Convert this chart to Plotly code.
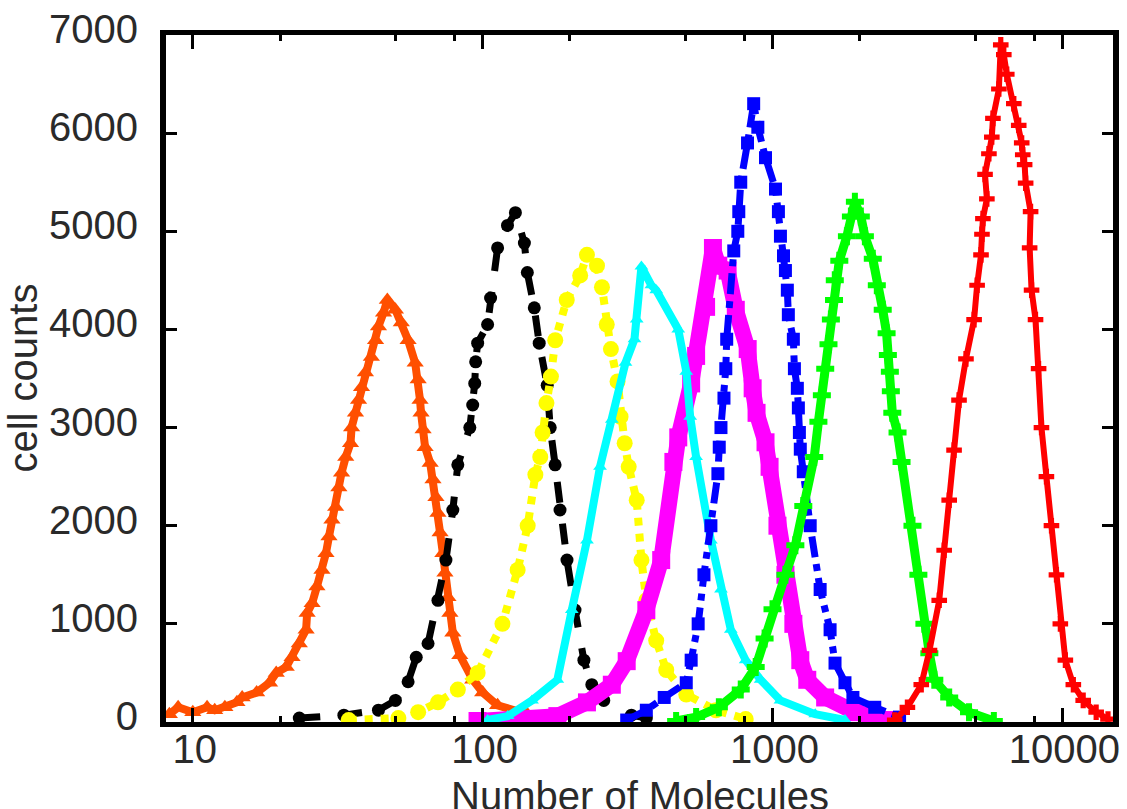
import plotly.graph_objects as go

# ---- data (molecule number vs. cell counts) ----
orange_x = [8.3, 8.9, 10, 11.2, 11.9, 12.9, 14.2, 14.8, 16.6, 18.4, 19.4, 21, 22, 23.3, 24.6, 24.8, 25.8, 26.8, 27.9, 28.8,
            29.5, 30.2, 31.1, 31.9, 32.6, 33.7, 35.0, 35.3, 36.4, 37.3, 38.2, 39.4, 41.3, 42.7, 43.7, 45.5, 46.9, 50.0, 52.4, 55.3,
            58.5, 59.9, 60.8, 61.3, 62.3, 63.3, 65.9, 67.4, 69.0, 70.1, 71.3, 72.9, 74.1, 75.9, 77.1, 78.9, 83.4, 92.4, 100, 112.6,
            142.6, 180.6]
orange_y = [80, 150, 100, 150, 120, 150, 200, 250, 300, 400, 500, 560, 660, 800, 940, 1110, 1210, 1380, 1550, 1720,
            1890, 2060, 2190, 2390, 2540, 2700, 2840, 3000, 3150, 3280, 3410, 3560, 3720, 3890, 4030, 4170, 4300, 4200, 4070, 3890,
            3660, 3490, 3280, 3150, 2980, 2800, 2640, 2470, 2290, 2130, 1930, 1720, 1520, 1270, 1110, 910, 680, 430, 300, 170,
            80, 40]

black_x = [23.3, 33.2, 43.7, 50.0, 55.3, 59.0, 64.8, 70.1, 74.7, 78.9, 82.1, 90.3, 92.4, 93.9, 94.6, 96.1, 104, 106.5,
           112.6, 121.8, 129.7, 139.3, 142.6, 150.7, 156.7, 167, 171, 177.8, 184.9, 195.4, 208.3, 223.5, 238, 261.7, 326, 367]
black_y = [40, 70, 120, 220, 410, 660, 800, 1240, 1650, 2160, 2620, 3000, 3230, 3450, 3670, 3860, 4050, 4320,
           4830, 5060, 5190, 4880, 4580, 4220, 3860, 3430, 3000, 2620, 2160, 1650, 1140, 630, 380, 220, 70, 40]

yellow_x = [34.5, 51.2, 59.9, 70.1, 82.1, 96.1, 117, 132, 143, 152, 158, 161, 166, 172, 178, 195, 217, 229, 248, 258,
            268, 277, 292, 299, 309, 319, 340, 353, 367, 397, 430, 504, 638, 808]
yellow_y = [20, 40, 100, 200, 330, 500, 1000, 1550, 2000, 2520, 2700, 2950, 3250, 3520, 3890, 4300, 4550, 4760, 4650, 4430,
            4050, 3800, 3470, 3110, 2840, 2600, 2260, 1650, 1240, 830, 530, 280, 120, 30]

magenta_x = [96, 181, 229, 279, 314, 367, 413, 455, 473, 524, 545, 590, 623, 650, 700, 747, 821, 854, 881, 946, 977,
             1040, 1108, 1180, 1247, 1318, 1519, 1924, 2535]
magenta_y = [10, 60, 200, 380, 620, 1140, 1650, 2650, 2900, 3450, 3730, 4230, 4830, 4650, 4600, 4200, 3800, 3400, 3150,
             2850, 2600, 2000, 1500, 1000, 630, 430, 250, 100, 20]

cyan_x = [104, 122, 148, 181, 203, 229, 254, 279, 311, 334, 340, 353, 382, 397, 473, 504, 520, 545, 613, 664, 718, 808,
          910, 1065, 1404, 1778]
cyan_y = [20, 60, 220, 430, 1140, 1850, 2600, 3080, 3660, 3900, 4100, 4640, 4450, 4400, 4000, 3570, 3110, 2700, 1850,
          1350, 940, 630, 430, 220, 80, 20]

blue_x = [314, 367, 423, 504, 524, 554, 580, 613, 648, 655, 664, 680, 690, 695, 735, 759, 765, 777, 820, 861, 890, 946,
          1024, 1048, 1065, 1091, 1108, 1125, 1134, 1180, 1190, 1218, 1228, 1238, 1247, 1277, 1349, 1460, 1580, 1643, 1778,
          1894, 2253, 2744]
blue_y = [20, 120, 250, 400, 630, 1000, 1500, 2000, 2530, 2800, 3000, 3300, 3600, 3900, 4800, 5000, 5200, 5500, 5900,
          6300, 6060, 5750, 5430, 5200, 4950, 4750, 4600, 4400, 4150, 3900, 3600, 3400, 3200, 2950, 2780, 2550, 2000, 1350,
          940, 600, 400, 250, 150, 50]

green_x = [465, 545, 653, 777, 875, 939, 1000, 1108, 1199, 1277, 1393, 1440, 1480, 1520, 1560, 1590, 1630, 1640, 1700,
           1806, 1864, 1924, 2017, 2083, 2218, 2290, 2400, 2475, 2500, 2540, 2560, 2590, 2700, 2787, 3040, 3186, 3342, 3476,
           3616, 4070, 4764, 5802]
green_y = [10, 50, 150, 330, 560, 850, 1150, 1500, 1800, 2200, 2700, 3060, 3330, 3600, 3850, 4100, 4300, 4500, 4700,
           4950, 5150, 5300, 5150, 4950, 4720, 4450, 4200, 3960, 3740, 3570, 3370, 3150, 2950, 2650, 2000, 1500, 1000, 700,
           430, 250, 100, 10]

red_x = [2640, 2920, 3260, 3480, 3760, 3910, 4070, 4230, 4400, 4650, 4960, 5080, 5240, 5280, 5320, 5490, 5410, 5580, 5710,
         5760, 6040, 6130, 6280, 6430, 6800, 7070, 7240, 7300, 7410, 7470, 7770, 7710, 7830, 8080, 8280, 8470, 8810, 9170,
         9540, 9840, 10240, 10910, 11800, 13080, 14370]
red_y = [20, 150, 380, 730, 1240, 1750, 2260, 2770, 3280, 3700, 4100, 4450, 4760, 4970, 5130, 5330, 5580, 5790, 5960,
         6150, 6450, 6900, 6800, 6600, 6300, 6080, 5900, 5780, 5680, 5490, 5200, 4830, 4400, 4100, 3600, 3000, 2500, 2000,
         1500, 1000, 630, 380, 220, 100, 30]

x_tick_vals = [10, 100, 1000, 10000]
x_tick_text = ["10", "100", "1000", "10000"]
x_minor_vals = [20, 50, 80, 200, 500, 800, 2000, 5000, 8000]
y_tick_vals = [0, 1000, 2000, 3000, 4000, 5000, 6000, 7000]

series = [
    ("orange", orange_x, orange_y, "#FF4F00", "solid", 8, "triangle-up", 15),
    ("black", black_x, black_y, "#000000", "dash", 7, "circle", 13),
    ("yellow", yellow_x, yellow_y, "#FFFF00", "dot", 8, "circle", 16),
    ("magenta", magenta_x, magenta_y, "#FF00FF", "solid", 16, "square", 18),
    ("cyan", cyan_x, cyan_y, "#00FFFF", "solid", 8, "triangle-up", 12),
    ("blue", blue_x, blue_y, "#0000FF", "dashdot", 7, "square", 13),
    ("green", green_x, green_y, "#00FF00", "solid", 9, "cross", 15),
    ("red", red_x, red_y, "#FF0000", "solid", 6, "cross", 13),
]

fig = go.Figure()
for name, xs, ys, col, dash, lw, sym, ms in series:
    fig.add_trace(go.Scatter(
        x=xs, y=ys, name=name, mode="lines+markers",
        line=dict(color=col, width=lw, dash=dash),
        marker=dict(color=col, symbol=sym, size=ms, line=dict(width=0)),
        showlegend=False,
    ))

font_main = dict(family="Liberation Sans, Arial, sans-serif", size=40, color="#2a2a2a")

fig.update_layout(
    width=1127, height=809,
    margin=dict(l=166, r=7, t=35, b=87),
    paper_bgcolor="white", plot_bgcolor="white",
    font=font_main,
    xaxis=dict(
        type="log", range=[0.9075, 4.1747],
        tickmode="array", tickvals=x_tick_vals, ticktext=x_tick_text,
        ticks="inside", ticklen=14, tickwidth=3, tickcolor="black",
        minor=dict(tickmode="array", tickvals=x_minor_vals, ticks="inside",
                   ticklen=6, tickwidth=3, tickcolor="black", showgrid=False),
        showline=True, linecolor="black", linewidth=5, mirror="allticks",
        showgrid=False, zeroline=False,
        tickfont=font_main, ticklabelshift=2, ticklabelstandoff=-12,
    ),
    yaxis=dict(
        range=[0, 7000],
        tickmode="array", tickvals=y_tick_vals,
        ticks="inside", ticklen=11, tickwidth=3, tickcolor="black",
        showline=True, linecolor="black", linewidth=6, mirror="allticks",
        showgrid=False, zeroline=False,
        tickfont=font_main, ticklabelshift=-6, ticklabelstandoff=14,
    ),
    annotations=[
        dict(text="Number of Molecules", xref="paper", yref="paper", x=0.5, y=-0.073,
             xanchor="center", yanchor="top", showarrow=False, font=font_main),
        dict(text="cell counts", xref="paper", yref="paper", x=-0.152, y=0.5, textangle=-90,
             xanchor="center", yanchor="middle", showarrow=False, font=font_main),
    ],
)

fig.write_html("out.html")
